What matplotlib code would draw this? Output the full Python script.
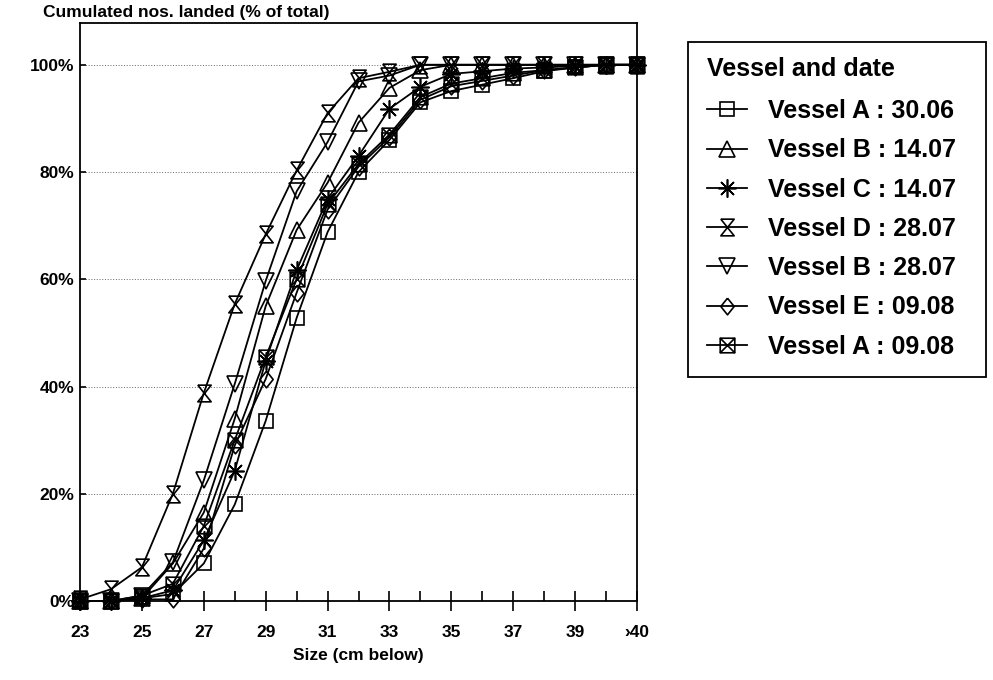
import matplotlib
matplotlib.use("Agg")
import matplotlib.pyplot as plt
from matplotlib.path import Path
from matplotlib.patches import Rectangle
import numpy as np

plt.rcParams['font.family'] = ['Liberation Sans', 'DejaVu Sans']
plt.rcParams['font.weight'] = 'bold'

sizes = ["23", "24", "25", "26", "27", "28", "29", "30", "31", "32", "33",
         "34", "35", "36", "37", "38", "39", "40", ">40"]
tick_labels = ["23", "25", "27", "29", "31", "33", "35", "37", "39", "\u203a40"]

vessel_a_3006 = [0, 0, 0.5, 1.3, 7, 18, 33.6, 52.8, 68.8, 80, 86, 93, 95.1, 96.3, 97.5, 98.8, 99.5, 100, 100]
vessel_b_1407 = [0, 0, 0.5, 7, 16.5, 34, 55, 69.2, 78, 89.2, 95.7, 99, 100, 100, 100, 100, 100, 100, 100]
vessel_c_1407 = [0, 0, 0.5, 2, 11.3, 24.3, 44.8, 61.7, 75, 83, 91.8, 95.9, 98.3, 98.8, 99.3, 99.5, 99.8, 100, 100]
vessel_d_2807 = [0.3, 2.2, 6.3, 20, 38.8, 55.4, 68.4, 80.3, 91, 97.5, 98.7, 100, 100, 100, 100, 100, 100, 100, 100]
vessel_b_2807 = [0, 0, 1, 7.2, 22.5, 40.5, 59.7, 76.4, 85.6, 96.9, 98, 100, 100, 100, 100, 100, 100, 100, 100]
vessel_e_0908 = [0, 0, 0.3, 0.3, 9.8, 29, 41.4, 57.5, 73, 81, 86.5, 93.5, 96, 97, 98, 99, 99.5, 100, 100]
vessel_a_0908 = [0, 0, 1, 3.2, 14, 30, 45.5, 60, 74, 81.5, 87, 94, 96.5, 97.5, 98.5, 99, 99.5, 100, 100]

series_labels = ["Vessel A : 30.06", "Vessel B : 14.07", "Vessel C : 14.07",
                 "Vessel D : 28.07", "Vessel B : 28.07", "Vessel E : 09.08",
                 "Vessel A : 09.08"]
series_values = [vessel_a_3006, vessel_b_1407, vessel_c_1407, vessel_d_2807,
                 vessel_b_2807, vessel_e_0908, vessel_a_0908]

# custom markers
hourglass = Path([(-0.8, 1), (0.8, 1), (-0.8, -1), (0.8, -1), (-0.8, 1)])
diamond = Path([(0, 1), (0.8, 0), (0, -1), (-0.8, 0), (0, 1)])
sqx = Path([(-1, -1), (1, -1), (1, 1), (-1, 1), (-1, -1),
            (-1, -1), (1, 1), (-1, 1), (1, -1)],
           [Path.MOVETO, Path.LINETO, Path.LINETO, Path.LINETO, Path.CLOSEPOLY,
            Path.MOVETO, Path.LINETO, Path.MOVETO, Path.LINETO])
markers = ['s', '^', (8, 2, 0), hourglass, 'v', diamond, sqx]
msizes = [10.5, 12, 13, 12, 12, 12, 10.5]

fig = plt.figure(figsize=(9.93, 6.80), dpi=100)
ax = fig.add_axes([0.0806, 0.1162, 0.5609, 0.8500])

x = np.arange(len(sizes))
handles = []
for vals, lab, mk, ms in zip(series_values, series_labels, markers, msizes):
    h, = ax.plot(x, vals, color='black', lw=1.3, marker=mk, ms=ms,
                 markerfacecolor='none', markeredgecolor='black',
                 markeredgewidth=1.2, label=lab, clip_on=False)
    handles.append(h)

ax.set_xlim(0, len(sizes) - 1)
ax.set_ylim(0, 107.8)

major_pos = list(range(0, len(sizes), 2))
ax.set_xticks(major_pos)
ax.set_xticklabels(tick_labels, fontsize=12.5, fontweight='bold')
ax.set_xticks(x, minor=True)
ax.tick_params(axis='x', which='major', direction='inout', length=14, width=1.2, pad=10)
ax.tick_params(axis='x', which='minor', direction='in', length=7, width=1.2)

yt = [0, 20, 40, 60, 80, 100]
ax.set_yticks(yt)
ax.set_yticklabels([f"{v}%" for v in yt], fontsize=12.5, fontweight='bold')
ax.tick_params(axis='y', direction='in', length=4, width=1.2, pad=4)
ax.yaxis.grid(True, linestyle=(0, (1, 1.8)), color='#666666', linewidth=0.7)
ax.set_axisbelow(True)

for s in ax.spines.values():
    s.set_linewidth(1.3)
    s.set_color('black')

ax.set_xlabel("Size (cm below)", fontsize=12.5, fontweight='bold', labelpad=6)
fig.text(0.043, 0.993, "Cumulated nos. landed (% of total)", fontsize=12.5,
         fontweight='bold', ha='left', va='top')

# legend frame
fig.patches.append(Rectangle((688 / 993, 1 - 377 / 680), (986 - 688) / 993,
                             (377 - 42) / 680, transform=fig.transFigure,
                             facecolor='white', edgecolor='black', linewidth=1.3,
                             zorder=0))

leg = fig.legend(handles=handles, loc='upper left',
                 bbox_to_anchor=(707 / 993, 1 - 57 / 680),
                 title="Vessel and date", fontsize=18, title_fontsize=18,
                 frameon=False, borderpad=0, labelspacing=0.61,
                 handlelength=1.6, handletextpad=0.85, borderaxespad=0)
leg.get_title().set_fontweight('bold')
leg._legend_box.align = "left"
leg._legend_box.sep = 13
for t in leg.get_texts():
    t.set_fontweight('bold')

fig.savefig("out.png", dpi=100)
